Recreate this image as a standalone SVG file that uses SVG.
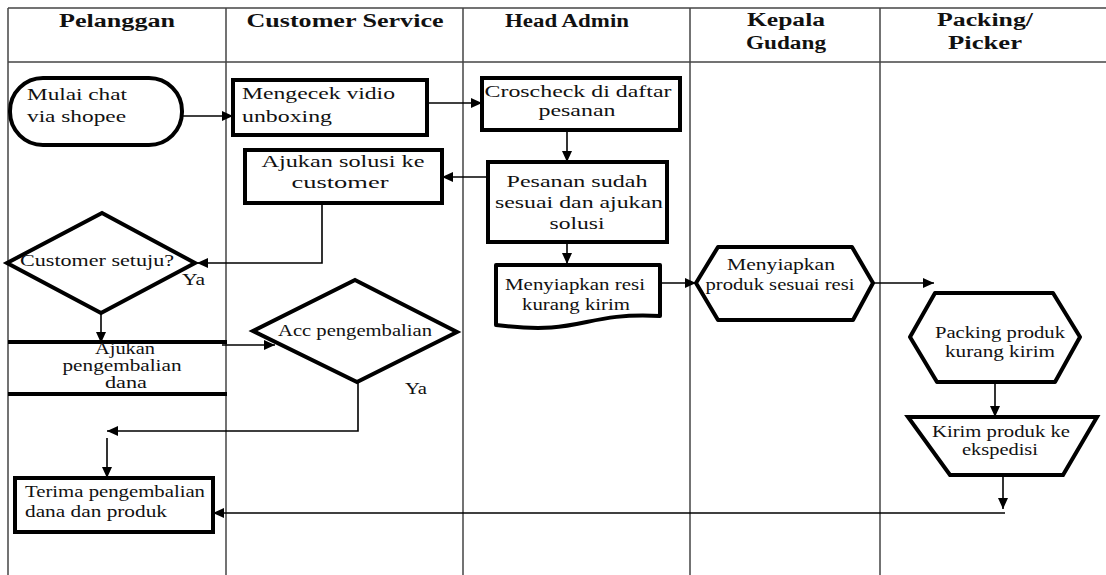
<svg xmlns="http://www.w3.org/2000/svg" width="1106" height="575" viewBox="0 0 1106 575">
<style>
.grid{stroke:#444;stroke-width:1.5;fill:none}
.shape{fill:#fff;stroke:#000;stroke-width:4}
.conn{fill:none;stroke:#000;stroke-width:1.6}
.t{font-family:"Liberation Serif","Times New Roman",serif;font-size:17px;fill:#111}
.m{text-anchor:middle}
.h{font-family:"Liberation Serif","Times New Roman",serif;font-size:18px;font-weight:bold;fill:#111;text-anchor:middle}
</style>
<defs>
<marker id="arr" markerUnits="userSpaceOnUse" markerWidth="12" markerHeight="10" refX="11" refY="5" orient="auto">
<path d="M0,0 L11,5 L0,10 Z" fill="#000"/>
</marker>
</defs>
<rect width="1106" height="575" fill="#fff"/>
<g id="grid">
<line class="grid" x1="8" y1="8" x2="1106" y2="8"/>
<line class="grid" x1="8" y1="62" x2="1106" y2="62"/>
<line class="grid" x1="8" y1="8" x2="8" y2="575"/>
<line class="grid" x1="226" y1="8" x2="226" y2="575"/>
<line class="grid" x1="463" y1="8" x2="463" y2="575"/>
<line class="grid" x1="690" y1="8" x2="690" y2="575"/>
<line class="grid" x1="880" y1="8" x2="880" y2="575"/>
</g>
<g id="headers">
<text class="h" x="117" y="27" textLength="116" lengthAdjust="spacingAndGlyphs">Pelanggan</text>
<text class="h" x="345" y="27" textLength="197" lengthAdjust="spacingAndGlyphs">Customer Service</text>
<text class="h" x="567" y="27" textLength="124" lengthAdjust="spacingAndGlyphs">Head Admin</text>
<text class="h" x="786" y="26" textLength="78" lengthAdjust="spacingAndGlyphs">Kepala</text>
<text class="h" x="786" y="49" textLength="80" lengthAdjust="spacingAndGlyphs">Gudang</text>
<text class="h" x="985" y="26" textLength="96" lengthAdjust="spacingAndGlyphs">Packing/</text>
<text class="h" x="985" y="49" textLength="74" lengthAdjust="spacingAndGlyphs">Picker</text>
</g>
<g id="connectors">
<line class="conn" x1="182" y1="116" x2="233" y2="116" marker-end="url(#arr)"/>
<line class="conn" x1="427" y1="103" x2="482" y2="103" marker-end="url(#arr)"/>
<line class="conn" x1="567" y1="130" x2="567" y2="162" marker-end="url(#arr)"/>
<line class="conn" x1="488" y1="177" x2="442" y2="177" marker-end="url(#arr)"/>
<polyline class="conn" points="322,203 322,263 197,263" marker-end="url(#arr)"/>
<line class="conn" x1="101" y1="313" x2="101" y2="343" marker-end="url(#arr)"/>
<line class="conn" x1="222" y1="345" x2="275" y2="345" marker-end="url(#arr)"/>
<polyline class="conn" points="358,382 358,431 107,431" marker-end="url(#arr)"/>
<line class="conn" x1="107" y1="438" x2="107" y2="478" marker-end="url(#arr)"/>
<line class="conn" x1="567" y1="242" x2="567" y2="264" marker-end="url(#arr)"/>
<line class="conn" x1="660" y1="283" x2="696" y2="283" marker-end="url(#arr)"/>
<line class="conn" x1="873" y1="283" x2="934" y2="283" marker-end="url(#arr)"/>
<line class="conn" x1="995" y1="382" x2="995" y2="417" marker-end="url(#arr)"/>
<line class="conn" x1="1003" y1="476" x2="1003" y2="509" marker-end="url(#arr)"/>
<line class="conn" x1="1005" y1="513" x2="213" y2="513" marker-end="url(#arr)"/>
</g>
<g id="mulai-chat">
<rect class="shape" x="10" y="78" width="172" height="67" rx="33" ry="33"/>
<text class="t" x="27" y="100" textLength="100" lengthAdjust="spacingAndGlyphs">Mulai chat</text>
<text class="t" x="27" y="122" textLength="99" lengthAdjust="spacingAndGlyphs">via shopee</text>
</g>
<g id="mengecek-vidio">
<rect class="shape" x="233" y="80" width="194" height="55"/>
<text class="t" x="242" y="99" textLength="153" lengthAdjust="spacingAndGlyphs">Mengecek vidio</text>
<text class="t" x="242" y="122" textLength="90" lengthAdjust="spacingAndGlyphs">unboxing</text>
</g>
<g id="croscheck">
<rect class="shape" x="482" y="78" width="198" height="52"/>
<text class="t m" x="578" y="97" textLength="187" lengthAdjust="spacingAndGlyphs">Croscheck di daftar</text>
<text class="t m" x="577" y="116" textLength="77" lengthAdjust="spacingAndGlyphs">pesanan</text>
</g>
<g id="pesanan-sesuai">
<rect class="shape" x="488" y="162" width="179" height="80"/>
<text class="t m" x="577" y="187" textLength="141" lengthAdjust="spacingAndGlyphs">Pesanan sudah</text>
<text class="t m" x="579" y="208" textLength="168" lengthAdjust="spacingAndGlyphs">sesuai dan ajukan</text>
<text class="t m" x="577" y="229" textLength="55" lengthAdjust="spacingAndGlyphs">solusi</text>
</g>
<g id="ajukan-solusi">
<rect class="shape" x="245" y="150" width="197" height="53"/>
<text class="t m" x="343" y="167" textLength="163" lengthAdjust="spacingAndGlyphs">Ajukan solusi ke</text>
<text class="t m" x="340" y="188" textLength="97" lengthAdjust="spacingAndGlyphs">customer</text>
</g>
<g id="customer-setuju">
<polygon class="shape" points="102,213 195,263 101,313 7,263"/>
<text class="t" x="20" y="266" textLength="154" lengthAdjust="spacingAndGlyphs">Customer setuju?</text>
<text class="t" x="182" y="285" textLength="23" lengthAdjust="spacingAndGlyphs">Ya</text>
</g>
<g id="ajukan-pengembalian">
<line class="shape" x1="8" y1="342" x2="227" y2="342"/>
<line class="shape" x1="8" y1="394" x2="227" y2="394"/>
<text class="t m" x="125" y="354" textLength="60" lengthAdjust="spacingAndGlyphs">Ajukan</text>
<text class="t m" x="122" y="371" textLength="119" lengthAdjust="spacingAndGlyphs">pengembalian</text>
<text class="t m" x="126" y="388" textLength="42" lengthAdjust="spacingAndGlyphs">dana</text>
</g>
<g id="acc-pengembalian">
<polygon class="shape" points="355,280 457,332 357,382 253,331"/>
<text class="t m" x="355" y="336" textLength="154" lengthAdjust="spacingAndGlyphs">Acc pengembalian</text>
<text class="t" x="405" y="394" textLength="22" lengthAdjust="spacingAndGlyphs">Ya</text>
</g>
<g id="terima">
<rect class="shape" x="15" y="478" width="198" height="54"/>
<text class="t" x="25" y="497" textLength="180" lengthAdjust="spacingAndGlyphs">Terima pengembalian</text>
<text class="t" x="25" y="517" textLength="142" lengthAdjust="spacingAndGlyphs">dana dan produk</text>
</g>
<g id="menyiapkan-resi">
<path class="shape" stroke-linejoin="round" d="M496,265 H660 V316 C580,312 585,336 496,325 Z"/>
<text class="t m" x="575" y="290" textLength="140" lengthAdjust="spacingAndGlyphs">Menyiapkan resi</text>
<text class="t m" x="576" y="310" textLength="108" lengthAdjust="spacingAndGlyphs">kurang kirim</text>
</g>
<g id="menyiapkan-produk">
<polygon class="shape" stroke-linejoin="round" points="696,283 718,247 852,247 873,283 853,320 718,320"/>
<text class="t m" x="781" y="270" textLength="108" lengthAdjust="spacingAndGlyphs">Menyiapkan</text>
<text class="t m" x="780" y="290" textLength="149" lengthAdjust="spacingAndGlyphs">produk sesuai resi</text>
</g>
<g id="packing-produk">
<polygon class="shape" stroke-linejoin="round" points="910,337 935,293 1053,293 1080,337 1055,382 937,382"/>
<text class="t m" x="1000" y="338" textLength="130" lengthAdjust="spacingAndGlyphs">Packing produk</text>
<text class="t m" x="1000" y="357" textLength="110" lengthAdjust="spacingAndGlyphs">kurang kirim</text>
</g>
<g id="kirim-produk">
<polygon class="shape" points="908,417 1097,417 1063,475 950,475"/>
<text class="t m" x="1001" y="437" textLength="138" lengthAdjust="spacingAndGlyphs">Kirim produk ke</text>
<text class="t m" x="1000" y="455" textLength="76" lengthAdjust="spacingAndGlyphs">ekspedisi</text>
</g>
</svg>
